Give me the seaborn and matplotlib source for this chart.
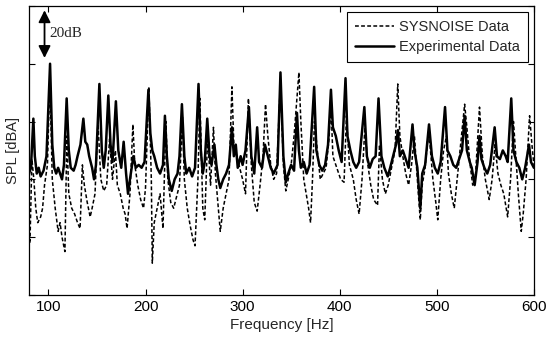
import numpy as np
import pandas as pd
import matplotlib
matplotlib.use("Agg")
import matplotlib.pyplot as plt
import seaborn as sns

# ---- data (y in arbitrary dB units, 0..100) ----
freq_exp = [80, 82, 84.5, 86, 88, 90, 92, 95, 98, 101.7, 104, 106, 108, 110, 112, 114, 116,
            118.8, 121, 123, 126, 128, 130, 133, 136, 138, 140, 142, 145, 147, 149, 152.5,
            155, 157, 159, 161.7, 164, 166, 169.5, 172, 175, 177.5, 180, 182, 184, 187.5,
            190, 193, 196, 199, 203, 205, 207, 209, 212, 215, 218, 220, 222, 224, 227, 230,
            233, 235, 237.5, 240, 242, 245, 248, 251, 254.6, 257, 259, 261, 263.6, 266, 268,
            271, 273, 275, 277, 280, 283, 286, 289, 291, 293, 295, 298, 300, 303, 306.5, 309,
            312, 315, 317, 320, 323, 326, 329, 332, 336, 339, 342, 344.5, 347, 350, 353, 356,
            358, 360, 363, 366, 369, 373.7, 376, 379, 382, 385, 388, 391, 393, 396, 399, 402,
            406, 408, 411, 414, 417, 420, 425.4, 428, 431, 434, 437, 440, 443, 446, 449.5,
            452, 455, 458, 460, 462, 465, 468, 471, 475, 477, 480, 483, 485, 488, 492, 495,
            498, 501, 504, 508.5, 511, 514, 517, 520, 523, 526, 528.7, 531, 534, 536, 539,
            542, 544, 546, 549, 552, 555, 559.6, 562, 565, 568, 571, 573, 576.7, 579, 582,
            585, 588, 591, 595, 597, 600]
spl_exp = [42, 44, 61, 48, 42, 44, 41, 43, 48, 80, 52, 44, 42, 44, 42, 40, 45,
           68, 50, 44, 43, 45, 48, 52, 61, 53, 52, 48, 44, 40, 45, 73,
           50, 44, 50, 69, 52, 46, 67, 50, 44, 53, 42, 35, 40, 48,
           44, 45, 44, 46, 71, 56, 50, 48, 44, 42, 45, 62, 48, 40, 36, 40,
           42, 48, 66, 48, 42, 44, 41, 44, 73, 50, 42, 46, 61, 48, 45,
           52, 45, 40, 37, 40, 42, 45, 58, 48, 52, 44, 48, 45, 50, 65, 48,
           42, 58, 46, 44, 52, 48, 44, 42, 45, 77, 48, 39, 42, 45, 43, 63,
           50, 44, 46, 42, 45, 72, 50, 45, 43, 45, 52, 71, 58, 55, 50, 46,
           75, 55, 50, 46, 44, 46, 65, 48, 44, 47, 48, 68, 48, 44, 41,
           44, 48, 52, 57, 48, 50, 47, 44, 59, 50, 44, 30, 42, 45, 59, 48,
           44, 42, 46, 65, 50, 48, 45, 44, 47, 50, 62, 50, 46, 44, 38,
           46, 55, 47, 44, 42, 45, 58, 48, 47, 50, 48, 46, 68, 50, 46,
           44, 40, 44, 52, 46, 44]

freq_sys = [80, 81, 83, 85, 87, 89, 92, 94, 96, 99, 101.5, 104, 107, 110, 112, 114, 117,
            119, 121, 124, 127, 130, 132.6, 135, 137, 140, 143, 145, 148, 151, 154, 157,
            160, 163, 166, 169, 171, 174, 177, 179, 181, 184, 187, 189, 192, 195, 198, 200,
            203.5, 206, 207, 209, 212, 215, 218, 221, 223, 226, 229, 232, 235, 238, 240,
            243, 246, 249, 251, 254, 256, 259, 261, 264, 267, 270, 272, 275, 277, 280, 283,
            286, 289, 291, 294, 297, 300, 303, 306, 309, 312, 315, 318, 321, 323.6, 326,
            329, 332, 335, 339, 342, 344.5, 347, 350, 353, 358, 360, 363, 366, 368, 370,
            372, 374, 377, 380, 383, 386, 389, 391, 393, 396, 399, 401, 404.5, 407, 410,
            414, 417, 420, 423, 426, 429, 432, 435, 439, 441, 444, 447, 450, 454, 457,
            459.8, 462, 465, 468, 471, 474, 477, 479, 481, 483, 485, 488, 491, 493, 496,
            499, 501, 504, 507, 510, 512, 515, 518, 521, 524, 528.7, 531, 534, 537, 540,
            544, 547, 550, 554, 557, 560, 563, 566, 569, 573, 576, 579, 581, 584, 587, 589,
            592, 595.6, 598, 600]
spl_sys = [20, 18, 47, 40, 30, 25, 27, 30, 38, 45, 75, 40, 30, 22, 25, 20, 15,
           55, 35, 30, 28, 25, 23, 45, 38, 32, 27, 30, 35, 60, 40, 36,
           38, 54, 40, 50, 38, 35, 30, 28, 23, 35, 59, 45, 38, 33, 30, 37,
           72, 40, 11, 25, 30, 35, 23, 60, 40, 32, 30, 34, 38, 62, 40,
           30, 24, 19, 17, 40, 68, 30, 26, 55, 38, 58, 42, 30, 22, 30, 35,
           40, 72, 52, 48, 44, 40, 35, 68, 45, 32, 29, 38, 48, 66, 55,
           45, 40, 42, 74, 45, 36, 40, 45, 55, 77, 60, 40, 34, 30, 25,
           40, 60, 50, 40, 42, 44, 54, 66, 48, 45, 42, 40, 39, 62, 45,
           40, 33, 28, 40, 58, 45, 38, 33, 31, 52, 40, 35, 38, 45, 50,
           73, 55, 48, 42, 38, 45, 55, 45, 35, 26, 38, 44, 55, 52, 40,
           32, 26, 40, 50, 55, 42, 35, 30, 40, 50, 66, 58, 46, 38, 42,
           65, 48, 40, 33, 40, 52, 42, 38, 35, 27, 40, 60, 50, 35, 22, 28,
           40, 62, 52, 45]

x_ticks = [100, 200, 300, 400, 500, 600]

sys_df = pd.DataFrame({"freq": freq_sys, "spl": spl_sys})
exp_df = pd.DataFrame({"freq": freq_exp, "spl": spl_exp})

sns.set_theme(style="ticks")
plt.rcParams["font.family"] = ["Liberation Sans", "DejaVu Sans"]
plt.rcParams["xtick.direction"] = "in"
plt.rcParams["ytick.direction"] = "in"

fig = plt.figure(figsize=(5.47, 3.39), dpi=100)
ax = fig.add_axes([0.053, 0.13, 0.923, 0.8525])

sns.lineplot(data=sys_df, x="freq", y="spl", ax=ax, color="black", lw=1.1,
             linestyle=(0, (2.5, 1.5)), label="SYSNOISE Data", estimator=None, sort=False)
sns.lineplot(data=exp_df, x="freq", y="spl", ax=ax, color="black", lw=1.8,
             label="Experimental Data", estimator=None, sort=False)

ax.set_xlim(80, 600)
ax.set_ylim(0, 100)
ax.set_xticks(x_ticks)
ax.set_xticklabels([str(t) for t in x_ticks], fontsize=11)
ax.set_yticks(np.arange(0, 101, 20))
ax.set_yticklabels([])
ax.tick_params(top=True, right=True, length=4, width=0.8, colors="black")
for s in ax.spines.values():
    s.set_color("black")
    s.set_linewidth(0.9)

ax.set_xlabel("Frequency [Hz]", fontsize=11, labelpad=3)
ax.set_ylabel("SPL [dBA]", fontsize=10.5, labelpad=3)

# 20 dB scale arrow
ax.annotate("", xy=(96, 98.5), xytext=(96, 82),
            arrowprops=dict(arrowstyle="<|-|>", color="black", lw=1.3,
                            mutation_scale=18, shrinkA=0, shrinkB=0))
ax.text(100.5, 90.5, "20dB", fontsize=11, va="center", ha="left",
        family=["Liberation Serif", "DejaVu Serif"])

leg = ax.legend(loc="upper right", fontsize=10.5, frameon=True, fancybox=False,
                edgecolor="black", framealpha=1, borderpad=0.55, handlelength=2.7,
                handletextpad=0.35, labelspacing=0.45, borderaxespad=0.4)
leg.get_frame().set_linewidth(0.8)

fig.savefig("out.png", dpi=100)
